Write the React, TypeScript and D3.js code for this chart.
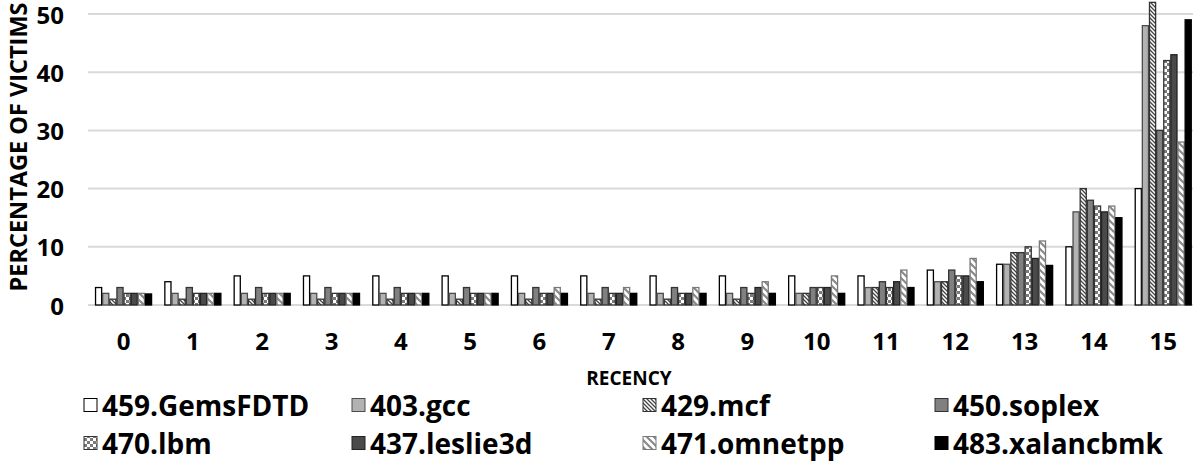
import React, { useEffect, useRef } from "react";
import * as d3 from "d3";

const categories = ["0","1","2","3","4","5","6","7","8","9","10","11","12","13","14","15"];
const seriesNames = ["459.GemsFDTD","403.gcc","429.mcf","450.soplex","470.lbm","437.leslie3d","471.omnetpp","483.xalancbmk"];
const gems = [3,4,5,5,5,5,5,5,5,5,5,5,6,7,10,20];
const gcc = [2,2,2,2,2,2,2,2,2,2,2,3,4,7,16,48];
const mcf = [1,1,1,1,1,1,1,1,1,1,2,3,4,9,20,52];
const soplex = [3,3,3,3,3,3,3,3,3,3,3,4,6,9,18,30];
const lbm = [2,2,2,2,2,2,2,2,2,2,3,3,5,10,17,42];
const leslie = [2,2,2,2,2,2,2,2,2,3,3,4,5,8,16,43];
const omnetpp = [2,2,2,2,2,2,3,3,3,4,5,6,8,11,17,28];
const xalanc = [1.9,2,2,2,2,2,2,2,2,2,2,3,4,6.8,15,49];
const seriesValues = [gems, gcc, mcf, soplex, lbm, leslie, omnetpp, xalanc];
const yTicks = [0,10,20,30,40,50];

const FONT = "'Open Sans', sans-serif";

const fills = ["#ffffff","#b2b2b2","url(#pMcf)","#808080","url(#pLbm)","#4a4a4a","url(#pOmn)","#000000"];
const strokes = ["#000000","#4d4d4d","#333333","#333333","#333333","#222222","#7a7a7a","#000000"];

export default function App() {
  const ref = useRef<SVGSVGElement>(null);
  useEffect(() => {
    document.body.style.margin = "0";
    const svg = d3.select(ref.current);
    svg.selectAll("*").remove();
    const W = 1193, H = 469;
    svg.attr("width", W).attr("height", H);
    svg.append("rect").attr("width", W).attr("height", H).attr("fill", "#fff");

    const defs = svg.append("defs");
    const pm = defs.append("pattern").attr("id","pMcf").attr("patternUnits","userSpaceOnUse")
      .attr("width",4).attr("height",4);
    pm.append("rect").attr("width",4).attr("height",4).attr("fill","#fff");
    pm.append("path").attr("d","M-1,-1 L5,5 M-1,3 L1,5 M3,-1 L5,1").attr("stroke","#444").attr("stroke-width",1.3);
    const po = defs.append("pattern").attr("id","pOmn").attr("patternUnits","userSpaceOnUse")
      .attr("width",7).attr("height",7);
    po.append("rect").attr("width",7).attr("height",7).attr("fill","#fff");
    po.append("path").attr("d","M-1,-1 L8,8 M-1,6 L1,8 M6,-1 L8,1").attr("stroke","#8a8a8a").attr("stroke-width",2.2);
    const pl = defs.append("pattern").attr("id","pLbm").attr("patternUnits","userSpaceOnUse")
      .attr("width",6).attr("height",6);
    pl.append("rect").attr("width",6).attr("height",6).attr("fill","#fff");
    pl.append("rect").attr("width",3).attr("height",3).attr("fill","#7a7a7a");
    pl.append("rect").attr("x",3).attr("y",3).attr("width",3).attr("height",3).attr("fill","#7a7a7a");

    const x0 = d3.scaleBand<string>().domain(categories).range([88.9, 1197.9]).paddingInner(0.177).paddingOuter(0.0885);
    const x1 = d3.scaleBand<number>().domain(d3.range(seriesNames.length)).range([0, x0.bandwidth()]).padding(0);
    const y = d3.scaleLinear().domain([0, 50]).range([305, 14]);

    // gridlines
    svg.append("g").selectAll("line").data(yTicks).join("line")
      .attr("x1", 88).attr("x2", W).attr("y1", d => y(d)).attr("y2", d => y(d))
      .attr("stroke", "#d9d9d9").attr("stroke-width", 2);

    // y tick labels
    svg.append("g").selectAll("text").data(yTicks).join("text")
      .attr("x", 64).attr("y", d => y(d)).attr("text-anchor","end").attr("dominant-baseline","central")
      .attr("font-family", FONT).attr("font-weight","bold").attr("font-size", 24).attr("fill","#000")
      .text(d => String(d));

    // bars
    const g = svg.append("g");
    categories.forEach((c, ci) => {
      seriesValues.forEach((vals, si) => {
        const v = vals[ci];
        const bx = (x0(c) as number) + (x1(si) as number);
        g.append("rect")
          .attr("x", bx + 0.5).attr("y", y(v)).attr("width", x1.bandwidth() - 1)
          .attr("height", y(0) - y(v))
          .attr("fill", fills[si]).attr("stroke", strokes[si]).attr("stroke-width", 1.3);
      });
    });

    // x tick labels
    svg.append("g").selectAll("text").data(categories).join("text")
      .attr("x", d => (x0(d) as number) + x0.bandwidth() / 2).attr("y", 340)
      .attr("text-anchor","middle").attr("dominant-baseline","central")
      .attr("font-family", FONT).attr("font-weight","bold").attr("font-size", 24).attr("fill","#000")
      .text(d => d);

    // axis titles
    svg.append("text").attr("x", 629).attr("y", 378).attr("text-anchor","middle").attr("dominant-baseline","central")
      .attr("font-family", FONT).attr("font-weight","bold").attr("font-size", 19).text("RECENCY");
    svg.append("text").attr("transform","translate(18,147) rotate(-90)").attr("text-anchor","middle")
      .attr("dominant-baseline","central")
      .attr("font-family", FONT).attr("font-weight","bold").attr("font-size", 23.5).text("PERCENTAGE OF VICTIMS");

    // legend
    const colX = [84, 352, 643, 935];
    const rowY = [405, 443];
    seriesNames.forEach((name, i) => {
      const cx = colX[i % 4], cy = rowY[Math.floor(i / 4)];
      svg.append("rect").attr("x", cx).attr("y", cy - 6.5).attr("width", 13).attr("height", 13)
        .attr("fill", fills[i]).attr("stroke", strokes[i]).attr("stroke-width", 1);
      svg.append("text").attr("x", cx + 18).attr("y", cy).attr("dominant-baseline","central")
        .attr("font-family", FONT).attr("font-weight","bold").attr("font-size", 28).text(name);
    });
  }, []);
  return <svg ref={ref} style={{ display: "block", position: "absolute", left: 0, top: 0 }} />;
}
